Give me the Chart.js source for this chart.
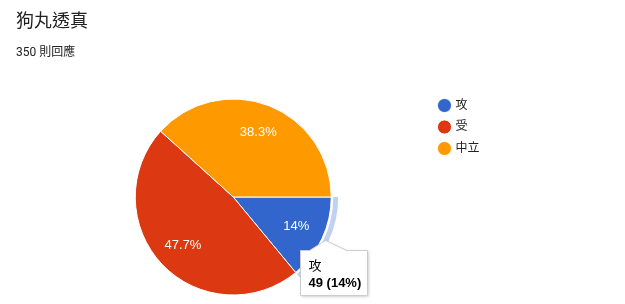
<!DOCTYPE html>
<html>
<head>
<meta charset="utf-8">
<script src="https://cdn.jsdelivr.net/npm/chart.js@4/dist/chart.umd.min.js"></script>
<style>
  body { margin: 0; background: #fff; }
  #page { position: relative; width: 625px; height: 304px; overflow: hidden; color: #212121;
          font-family: Roboto, "Noto Sans CJK TC", sans-serif; }
  #title { position: absolute; left: 16px; top: 11px; font-size: 18px; line-height: 20px; }
  #sub { position: absolute; left: 16px; top: 45px; font-size: 12px; line-height: 14px; }
  #box { position: absolute; left: 0; top: 0; width: 625px; height: 304px; }
</style>
</head>
<body>
<div id="page">
  <div id="box"><canvas id="pie"></canvas></div>
  <div id="title">狗丸透真</div>
  <div id="sub"></div>
</div>
<script>
const categories = ['攻', '受', '中立'];
const responses = [49, 167, 134];
const sliceColors = ['#3366cc', '#dc3912', '#ff9900'];
const highlighted = 0;

const total = responses.reduce((a, b) => a + b, 0);
document.getElementById('sub').textContent = total + ' 則回應';

const pct = v => {
  const p = Math.round(v / total * 1000) / 10;
  return (p % 1 === 0 ? p.toFixed(0) : p.toFixed(1)) + '%';
};
const font = '"Liberation Sans", Arial, "Noto Sans CJK TC", sans-serif';

// white percentage labels inside slices
const sliceLabels = {
  id: 'sliceLabels',
  afterDatasetsDraw(chart) {
    const ctx = chart.ctx;
    ctx.save();
    ctx.font = '13px ' + font;
    ctx.fillStyle = '#fff';
    ctx.textAlign = 'center';
    ctx.textBaseline = 'middle';
    chart.getDatasetMeta(0).data.forEach((arc, i) => {
      const mid = (arc.startAngle + arc.endAngle) / 2;
      const r = arc.outerRadius * 0.71;
      ctx.fillText(pct(responses[i]), arc.x + Math.cos(mid) * r, arc.y + Math.sin(mid) * r);
    });
    ctx.restore();
  }
};

// light ring + callout for the selected slice
const selection = {
  id: 'selection',
  afterDraw(chart) {
    const ctx = chart.ctx;
    const arc = chart.getDatasetMeta(0).data[highlighted];
    ctx.save();
    ctx.strokeStyle = 'rgba(51,102,204,0.3)';
    ctx.lineWidth = 5;
    ctx.beginPath();
    ctx.arc(arc.x, arc.y, arc.outerRadius + 4.5, arc.startAngle, arc.endAngle);
    ctx.stroke();

    const mid = (arc.startAngle + arc.endAngle) / 2;
    const tipX = arc.x + Math.cos(mid) * (arc.outerRadius + 4);
    const tipY = arc.y + Math.sin(mid) * (arc.outerRadius + 4);
    const bx = Math.round(tipX - 26) + 0.5, by = Math.round(tipY + 10) + 0.5;
    const bw = 67, bh = 45;

    ctx.shadowColor = 'rgba(0,0,0,0.25)';
    ctx.shadowBlur = 3;
    ctx.shadowOffsetX = 1;
    ctx.shadowOffsetY = 1;
    ctx.fillStyle = '#fff';
    ctx.beginPath();
    ctx.moveTo(bx, by);
    ctx.lineTo(bx + 9, by);
    ctx.lineTo(tipX, tipY);
    ctx.lineTo(bx + 46, by);
    ctx.lineTo(bx + bw, by);
    ctx.lineTo(bx + bw, by + bh);
    ctx.lineTo(bx, by + bh);
    ctx.closePath();
    ctx.fill();
    ctx.shadowColor = 'transparent';
    ctx.strokeStyle = '#cccccc';
    ctx.lineWidth = 1;
    ctx.stroke();

    ctx.fillStyle = '#000';
    ctx.textAlign = 'left';
    ctx.textBaseline = 'middle';
    ctx.font = '13px ' + font;
    ctx.fillText(categories[highlighted], bx + 8, by + 16);
    ctx.font = 'bold 13px ' + font;
    ctx.fillText(responses[highlighted] + ' (' + pct(responses[highlighted]) + ')', bx + 8, by + 33);
    ctx.restore();
  }
};

new Chart(document.getElementById('pie'), {
  type: 'pie',
  data: {
    labels: categories,
    datasets: [{
      data: responses,
      backgroundColor: sliceColors,
      borderColor: '#fff',
      borderWidth: 1
    }]
  },
  options: {
    responsive: true,
    maintainAspectRatio: false,
    animation: false,
    events: [],
    rotation: 90,
    radius: 98,
    layout: { padding: { top: 90, bottom: 0, left: 36.5, right: 135.5 } },
    plugins: {
      tooltip: { enabled: false },
      legend: {
        position: 'right',
        align: 'start',
        labels: {
          usePointStyle: true,
          pointStyle: 'circle',
          boxWidth: 10,
          boxHeight: 10,
          padding: 9.5,
          color: '#222',
          font: { size: 12, family: font }
        }
      }
    }
  },
  plugins: [sliceLabels, selection]
});
</script>
</body>
</html>
